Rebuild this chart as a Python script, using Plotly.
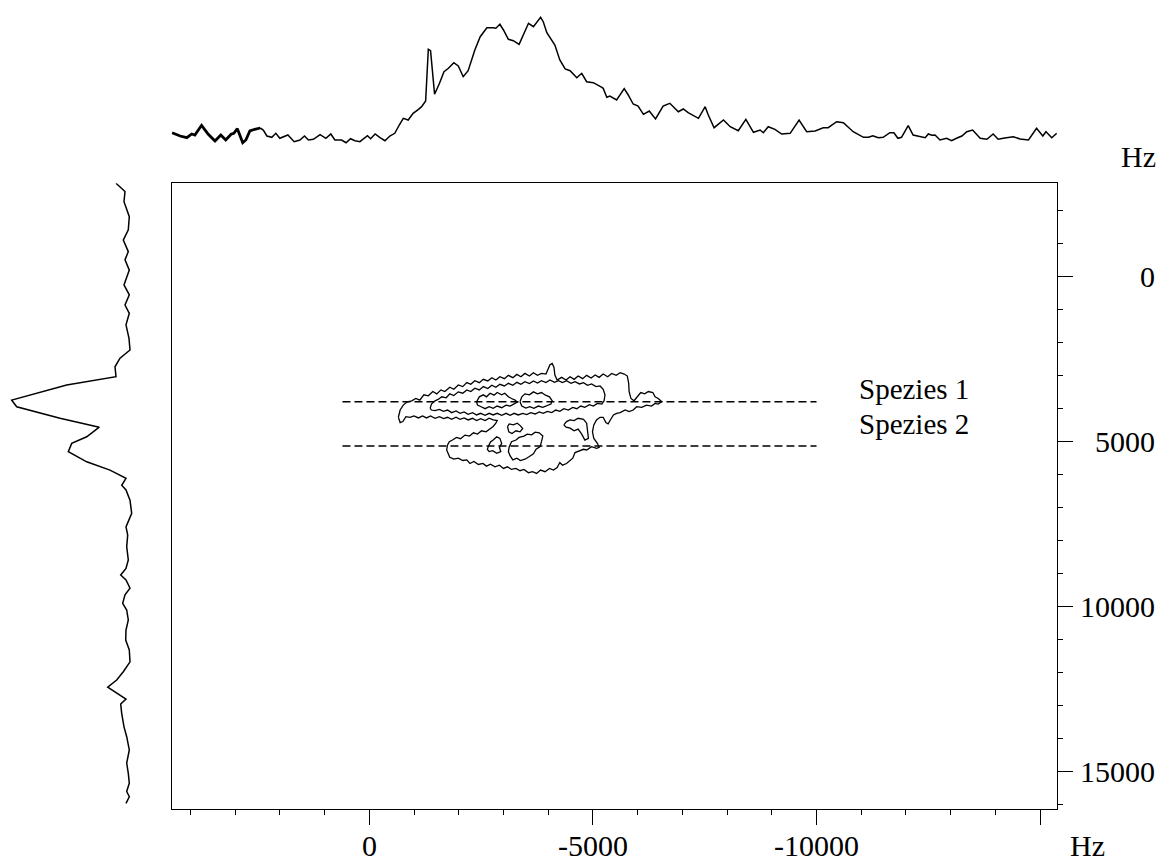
import plotly.graph_objects as go

# ---------------- spectrum data (frequencies in Hz) ----------------
# F2 projection (top trace): frequency / intensity (arb. units)
f2_proj_hz = [4410, 4230, 4080, 3970, 3900, 3750, 3600, 3450, 3320, 3210, 3090, 3030,
              2950, 2890, 2830, 2760, 2670, 2560, 2440, 2370, 2290, 2180, 2090, 2000,
              1820, 1680, 1550, 1450, 1360, 1250, 1100, 970, 860, 770, 620, 520, 420,
              320, 210, 40, -30, -130, -240, -350, -460, -570, -670, -760, -870, -980,
              -1100, -1170, -1260, -1320, -1370, -1460, -1570, -1670, -1770, -1890,
              -1990, -2100, -2210, -2360, -2480, -2630, -2770, -2830, -2920, -3000,
              -3110, -3220, -3350, -3440, -3560, -3670, -3830, -3890, -3970, -4150,
              -4260, -4380, -4490, -4640, -4750, -4860, -5010, -5200, -5230, -5310,
              -5380, -5530, -5700, -5790, -5900, -6010, -6130, -6260, -6400, -6570,
              -6720, -6910, -7020, -7130, -7360, -7510, -7580, -7710, -7920, -8070,
              -8250, -8420, -8590, -8740, -8810, -8920, -9070, -9220, -9410, -9610,
              -9780, -9970, -10150, -10260, -10450, -10600, -10820, -11050, -11160,
              -11260, -11380, -11490, -11640, -11730, -11820, -11900, -12050, -12160,
              -12310, -12430, -12500, -12580, -12650, -12760, -12910, -13020, -13130,
              -13250, -13360, -13490, -13660, -13810, -13950, -14060, -14210, -14400,
              -14550, -14740, -14920, -15060, -15130, -15260, -15370]
f2_proj_int = [12.3, 9, 7.3, 11, 10, 19.7, 10.7, 4, 10, 5, 10.7, 11.7,
               16.3, 10, 2.3, 5, 14, 15.7, 17, 15, 9, 7.7, 11.7, 6.7,
               10, 3.3, 5, 9, 5, 5.7, 10.3, 6.7, 11, 5, 5, 2.3, 6.3,
               4.3, 3.3, 9.3, 6.3, 11, 7.3, 4.3, 9, 11.7, 20, 26.7, 25, 31.7,
               35.7, 38.3, 44, 95.7, 94.3, 50.7, 61.7, 73.3, 76.7, 82.3,
               79, 68.3, 74.3, 95, 108.3, 117.3, 117.3, 116.7, 120.7, 115,
               105.7, 104.3, 100.7, 110, 121.7, 118.3, 127.7, 123.3, 112.3, 100,
               85, 76, 74.3, 67.3, 71.7, 63.3, 62.3, 57.7, 56.7, 47.7,
               49, 45, 56.3, 50, 41, 39, 30.7, 34, 26, 39,
               41.7, 33.3, 36, 32.3, 26.7, 38.3, 30, 17.3, 25, 18.3,
               14.3, 25.7, 12.7, 15, 12.3, 18.3, 15.7, 11, 11.7, 25,
               13.3, 14, 17.3, 17.3, 23.3, 22.3, 13.3, 7.7, 7.7,
               9.3, 7.3, 7.7, 12.3, 12.3, 6.7, 7.7, 19.3, 10,
               8.3, 7.3, 11, 9.7, 10, 5, 6.7, 4.3, 6.7,
               9, 13.3, 15, 6.7, 5.7, 11, 5.7, 7, 8.3,
               6, 5, 16.7, 9, 13.3, 7.3, 11.7]
# the first part of the F2 trace is plotted with a heavier pen
f2_heavy_limit_hz = 2440

# F1 projection (left trace): frequency / intensity (arb. units)
f1_proj_hz = [-2830, -2580, -2270, -1820, -1420, -1110, -760, -510, -200, 250, 550,
              860, 1110, 1460, 1870, 2220, 2470, 2730, 3030, 3280, 3740, 3940, 4290,
              4560, 4850, 5050, 5300, 5610, 5860, 6110, 6320, 6460, 6770, 7170, 7580,
              7830, 8180, 8580, 8840, 9040, 9190, 9440, 9640, 9900, 10100, 10400,
              10710, 11010, 11310, 11670, 11970, 12220, 12440, 12620, 12800, 12950,
              13230, 13640, 13940, 14340, 14740, 15050, 15350, 15600, 15760, 15960]
f1_proj_int = [24, 15, 16, 10.7, 11.7, 16.7, 11.7, 15, 10.7, 16, 10.7,
               15, 10.7, 14, 11, 10, 20, 25, 24, 73.3, 128.3, 123.3, 80,
               40.7, 53.3, 68.3, 71.7, 53.3, 30, 14, 18.3, 14, 10, 8.3, 14,
               12.3, 13.3, 11.7, 14, 19.3, 14, 10, 15, 17.3, 13.3, 11.7,
               14, 14.3, 10.7, 10, 16.7, 23.3, 32.3, 23.3, 14, 19.3,
               18.3, 16, 13.3, 10.7, 13.3, 11.7, 10.7, 13.3, 10.7, 14]

# contour levels of the 2D spectrum: (F2 Hz, F1 Hz) outlines
contour_level1 = [
    (-650, 4260), (-690, 4040), (-760, 3890), (-850, 3790), (-950, 3760), (-1040, 3690),
    (-1130, 3740), (-1220, 3580), (-1320, 3610), (-1420, 3480), (-1510, 3550),
    (-1600, 3430), (-1690, 3480), (-1800, 3350), (-1890, 3410), (-1990, 3280),
    (-2090, 3330), (-2180, 3210), (-2270, 3260), (-2360, 3150), (-2460, 3210),
    (-2550, 3110), (-2650, 3160), (-2740, 3060), (-2830, 3130), (-2920, 3030),
    (-3020, 3090), (-3110, 2990), (-3210, 3060), (-3300, 2960), (-3390, 3030),
    (-3480, 2930), (-3580, 3010), (-3670, 2910), (-3760, 2990), (-3850, 2930),
    (-3950, 2950), (-4000, 2810), (-4040, 2670), (-4090, 2630), (-4130, 2750),
    (-4150, 2980), (-4200, 3130), (-4300, 3050), (-4400, 3130), (-4490, 3030),
    (-4580, 3110), (-4670, 3010), (-4770, 3090), (-4860, 2990), (-4960, 3070),
    (-5050, 2980), (-5140, 3050), (-5230, 2950), (-5330, 3030), (-5420, 2930),
    (-5520, 2990), (-5610, 2910), (-5700, 2950), (-5770, 3010), (-5800, 3230),
    (-5810, 3480), (-5850, 3690), (-5920, 3760), (-5990, 3640), (-6070, 3510),
    (-6160, 3550), (-6240, 3480), (-6340, 3510), (-6390, 3640), (-6460, 3690),
    (-6540, 3790), (-6460, 3860), (-6390, 3840), (-6310, 3920), (-6200, 3890),
    (-6090, 3960), (-5980, 3940), (-5900, 4040), (-5810, 4090), (-5720, 4040),
    (-5610, 4120), (-5530, 4140), (-5460, 4190), (-5400, 4320), (-5340, 4460),
    (-5290, 4420), (-5230, 4260), (-5160, 4260), (-5080, 4340), (-5020, 4490),
    (-4990, 4700), (-5020, 4900), (-5100, 5050), (-5140, 5170), (-5080, 5200),
    (-4970, 5150), (-4860, 5250), (-4790, 5230), (-4670, 5300), (-4600, 5330),
    (-4550, 5500), (-4470, 5600), (-4410, 5660), (-4320, 5710), (-4260, 5630),
    (-4200, 5780), (-4120, 5860), (-4030, 5810), (-3930, 5910), (-3830, 5860),
    (-3740, 5960), (-3650, 5910), (-3560, 5940), (-3460, 5840), (-3370, 5880),
    (-3280, 5810), (-3180, 5840), (-3090, 5760), (-3000, 5810), (-2910, 5710),
    (-2810, 5760), (-2710, 5680), (-2620, 5740), (-2540, 5660), (-2440, 5690),
    (-2340, 5600), (-2250, 5660), (-2180, 5550), (-2090, 5570), (-1990, 5500),
    (-1890, 5530), (-1800, 5470), (-1770, 5370), (-1730, 5250), (-1750, 5100),
    (-1790, 5000), (-1860, 4950), (-1950, 4870), (-2040, 4910), (-2140, 4800),
    (-2240, 4830), (-2330, 4730), (-2420, 4770), (-2510, 4670), (-2610, 4700),
    (-2700, 4600), (-2770, 4540), (-2830, 4440), (-2860, 4360), (-2770, 4340),
    (-2680, 4290), (-2590, 4360), (-2490, 4300), (-2400, 4360), (-2310, 4290),
    (-2210, 4340), (-2120, 4280), (-2030, 4320), (-1940, 4260), (-1840, 4320),
    (-1750, 4260), (-1660, 4300), (-1570, 4240), (-1470, 4290), (-1370, 4220),
    (-1280, 4280), (-1190, 4220), (-1100, 4280), (-1000, 4220), (-910, 4260),
    (-820, 4240), (-750, 4390), (-690, 4420),
]
contour_level2 = [
    (-1360, 3990), (-1390, 3860), (-1470, 3760), (-1540, 3720), (-1620, 3640),
    (-1720, 3670), (-1800, 3550), (-1890, 3600), (-1990, 3490), (-2090, 3530),
    (-2180, 3430), (-2270, 3480), (-2360, 3380), (-2460, 3430), (-2550, 3330),
    (-2650, 3390), (-2740, 3290), (-2830, 3350), (-2920, 3260), (-3020, 3310),
    (-3110, 3230), (-3210, 3290), (-3300, 3200), (-3390, 3260), (-3480, 3180),
    (-3580, 3240), (-3670, 3160), (-3760, 3220), (-3850, 3150), (-3950, 3210),
    (-4040, 3130), (-4140, 3200), (-4230, 3150), (-4320, 3210), (-4410, 3150),
    (-4510, 3230), (-4600, 3180), (-4700, 3250), (-4790, 3210), (-4880, 3290),
    (-4970, 3250), (-5070, 3330), (-5160, 3310), (-5230, 3410), (-5270, 3580),
    (-5250, 3760), (-5200, 3860), (-5100, 3840), (-5010, 3920), (-4920, 3880),
    (-4820, 3960), (-4730, 3920), (-4640, 4000), (-4550, 3960), (-4450, 4040),
    (-4350, 4000), (-4260, 4080), (-4170, 4040), (-4080, 4120), (-3980, 4080),
    (-3890, 4140), (-3800, 4100), (-3710, 4160), (-3610, 4120), (-3520, 4180),
    (-3430, 4140), (-3330, 4190), (-3240, 4140), (-3150, 4200), (-3060, 4140),
    (-2960, 4200), (-2860, 4140), (-2770, 4190), (-2680, 4140), (-2590, 4200),
    (-2490, 4140), (-2400, 4190), (-2310, 4120), (-2210, 4170), (-2120, 4100),
    (-2030, 4140), (-1940, 4070), (-1840, 4120), (-1750, 4040), (-1660, 4080),
    (-1570, 4020), (-1470, 4060), (-1390, 4040),
]
contour_level3_a = [
    (-2400, 3790), (-2460, 3640), (-2550, 3580), (-2620, 3640), (-2700, 3530),
    (-2790, 3590), (-2860, 3510), (-2960, 3580), (-3030, 3530), (-3110, 3640),
    (-3180, 3690), (-3260, 3740), (-3310, 3800), (-3240, 3860), (-3150, 3920),
    (-3060, 3890), (-2960, 3970), (-2860, 3920), (-2770, 3990), (-2680, 3940),
    (-2590, 4000), (-2500, 3940), (-2420, 3890),
]
contour_level3_b = [
    (-3370, 3790), (-3410, 3640), (-3480, 3550), (-3580, 3580), (-3670, 3490),
    (-3760, 3550), (-3850, 3510), (-3940, 3590), (-4030, 3640), (-4090, 3760),
    (-4060, 3860), (-3970, 3900), (-3880, 3960), (-3780, 3920), (-3680, 3990),
    (-3590, 3940), (-3500, 3980), (-3410, 3920),
]
contour_level2_c = [
    (-3090, 4540), (-3130, 4460), (-3220, 4490), (-3310, 4440), (-3380, 4520),
    (-3430, 4600), (-3370, 4700), (-3280, 4670), (-3190, 4750), (-3120, 4700),
]
contour_level2_d = [
    (-2660, 5150), (-2710, 5010), (-2770, 4950), (-2850, 4850), (-2920, 4900),
    (-2960, 5050), (-2910, 5170), (-2940, 5300), (-2850, 5350), (-2760, 5270),
    (-2680, 5300), (-2640, 5230),
]
contour_level2_e = [
    (-3130, 5150), (-3180, 5000), (-3280, 4950), (-3350, 4870), (-3460, 4830),
    (-3530, 4770), (-3630, 4790), (-3710, 4710), (-3800, 4730), (-3880, 4830),
    (-3850, 5000), (-3820, 5150), (-3730, 5230), (-3670, 5370), (-3580, 5450),
    (-3480, 5530), (-3380, 5570), (-3300, 5500), (-3210, 5550), (-3150, 5430),
    (-3110, 5300),
]
contour_level2_f = [
    (-4350, 4490), (-4410, 4390), (-4490, 4340), (-4580, 4360), (-4670, 4290),
    (-4790, 4320), (-4860, 4440), (-4880, 4650), (-4900, 4900), (-4820, 4950),
    (-4750, 4770), (-4670, 4620), (-4580, 4670), (-4490, 4590), (-4400, 4560),
]
contours = [contour_level1, contour_level2, contour_level3_a, contour_level3_b,
            contour_level2_c, contour_level2_d, contour_level2_e, contour_level2_f]

# species marker lines (F1 position) and their labels
species_names = ["Spezies 1", "Spezies 2"]
species_f1_hz = [3790, 5130]
species_label_f1_hz = [3400, 4460]
species_line_f2_hz = [600, -10000]
species_label_f2_hz = -10900

# axis ticks
f2_tick_labels = {0: "0", -5000: "-5000", -10000: "-10000"}
f1_tick_labels = {0: "0", 5000: "5000", 10000: "10000", 15000: "15000"}

# ---------------- figure ----------------
W, H = 1163, 864
FONT = "Liberation Serif"
INK = "black"

f2_range = [4418, -15377]
f1_range = [16130, -2830]
main_x_dom = [171.7 / W, 1057 / W]
main_y_dom = [1 - 809 / H, 1 - 183.3 / H]

fig = go.Figure()

# contours on the main axes
for poly in contours:
    xs = [p[0] for p in poly] + [poly[0][0]]
    ys = [p[1] for p in poly] + [poly[0][1]]
    fig.add_trace(go.Scatter(x=xs, y=ys, mode="lines",
                             line=dict(color=INK, width=1.3),
                             xaxis="x", yaxis="y", hoverinfo="skip"))

# dashed species lines
for f1 in species_f1_hz:
    fig.add_trace(go.Scatter(x=species_line_f2_hz, y=[f1, f1], mode="lines",
                             line=dict(color=INK, width=1.3, dash="8px,4px"),
                             xaxis="x", yaxis="y", hoverinfo="skip"))

# top projection (heavy start + regular pen)
heavy = [i for i, f in enumerate(f2_proj_hz) if f >= f2_heavy_limit_hz]
last_heavy = heavy[-1]
fig.add_trace(go.Scatter(x=f2_proj_hz[:last_heavy + 1], y=f2_proj_int[:last_heavy + 1],
                         mode="lines", line=dict(color=INK, width=2.8),
                         xaxis="x2", yaxis="y2", hoverinfo="skip"))
fig.add_trace(go.Scatter(x=f2_proj_hz[last_heavy:], y=f2_proj_int[last_heavy:],
                         mode="lines", line=dict(color=INK, width=1.5),
                         xaxis="x2", yaxis="y2", hoverinfo="skip"))

# left projection
fig.add_trace(go.Scatter(x=f1_proj_int, y=f1_proj_hz, mode="lines",
                         line=dict(color=INK, width=1.5),
                         xaxis="x3", yaxis="y3", hoverinfo="skip"))

axis_common = dict(showgrid=False, zeroline=False, linecolor=INK, linewidth=1.3,
                   tickcolor=INK, tickwidth=1.3)

label_font = dict(family=FONT, size=30, color=INK)
annotations = []
for v, t in f2_tick_labels.items():
    annotations.append(dict(x=v, xref="x", y=0, yref="paper", text=t,
                            showarrow=False, xanchor="center", yanchor="bottom",
                            font=label_font))
for v, t in f1_tick_labels.items():
    annotations.append(dict(x=1157 / W, xref="paper", y=v, yref="y", text=t,
                            showarrow=False, xanchor="right", yanchor="middle",
                            font=label_font))
annotations.append(dict(x=1158 / W, xref="paper", y=1 - 156 / H, yref="paper", text="Hz",
                        showarrow=False, xanchor="right", yanchor="middle",
                        font=label_font))
annotations.append(dict(x=1087 / W, xref="paper", y=0, yref="paper", text="Hz",
                        showarrow=False, xanchor="center", yanchor="bottom",
                        font=label_font))
for name, f1 in zip(species_names, species_label_f1_hz):
    annotations.append(dict(x=species_label_f2_hz, xref="x", y=f1, yref="y", text=name,
                            showarrow=False, xanchor="left", yanchor="middle",
                            font=dict(family=FONT, size=29, color=INK)))

fig.update_layout(
    width=W, height=H,
    margin=dict(l=0, r=0, t=0, b=0),
    paper_bgcolor="white", plot_bgcolor="white",
    showlegend=False,
    xaxis=dict(domain=main_x_dom, range=f2_range, anchor="y",
               showline=True, mirror=True, ticks="outside", ticklen=15,
               tickmode="linear", tick0=0, dtick=5000, showticklabels=False,
               minor=dict(ticks="outside", ticklen=5, dtick=1000, tick0=0,
                          tickcolor=INK, tickwidth=1.3),
               **axis_common),
    yaxis=dict(domain=main_y_dom, range=f1_range, anchor="x", side="right",
               showline=True, mirror=True, ticks="outside", ticklen=15,
               tickmode="linear", tick0=0, dtick=5000, showticklabels=False,
               minor=dict(ticks="outside", ticklen=5, dtick=1000, tick0=0,
                          tickcolor=INK, tickwidth=1.3),
               **axis_common),
    xaxis2=dict(domain=main_x_dom, range=f2_range, anchor="y2", visible=False),
    yaxis2=dict(domain=[1 - 145 / H, 1.0], range=[0, 145], anchor="x2", visible=False),
    xaxis3=dict(domain=[0, 140 / W], range=[140, 0], anchor="y3", visible=False),
    yaxis3=dict(domain=main_y_dom, range=f1_range, anchor="x3", visible=False),
    annotations=annotations,
)

fig.write_html("out.html")
